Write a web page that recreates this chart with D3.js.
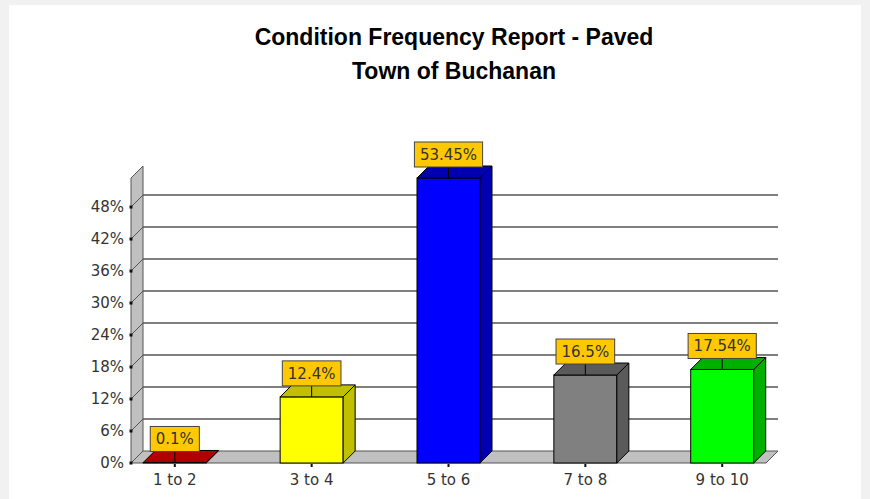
<!DOCTYPE html>
<html>
<head>
<meta charset="utf-8">
<script src="https://cdn.jsdelivr.net/npm/d3@7"></script>
<style>
  body { margin: 0; background: #f1f1f1; }
  #chart { position: absolute; left: 0; top: 0; }
</style>
</head>
<body>
<div id="chart"></div>
<script>
'use strict'

/*
 data
*/
let categories = ["1 to 2", "3 to 4", "5 to 6", "7 to 8", "9 to 10"]
let percents = [0.1, 12.4, 53.45, 16.5, 17.54]
let yTicks = [0, 6, 12, 18, 24, 30, 36, 42, 48]
let titleLines = ["Condition Frequency Report - Paved", "Town of Buchanan"]

let frontColors = ["#c00000", "#ffff00", "#0000ff", "#808080", "#00ff00"]
let darkColors = ["#b00000", "#c0c000", "#0000b0", "#5a5a5a", "#00b000"]

/*
 setup
*/
let width = 870
let height = 499
let x0 = 131      // front of y axis
let x1 = 766      // front right end of floor
let y0 = 463      // front baseline
let yTop = 178    // front top of the wall
let depth = 12
let barW = 63

let xscale = d3.scalePoint()
  .domain(categories)
  .range([x0, x1])
  .padding(0.32)

let yscale = d3.scaleLinear()
  .domain([0, d3.max(percents)])
  .range([y0, yTop])

let svg = d3.select("#chart").append("svg")
  .attr("width", width)
  .attr("height", height)

// white panel
svg.append("rect")
  .attr("x", 9).attr("y", 5)
  .attr("width", 852).attr("height", height)
  .style("fill", "#fff")

// title
svg.selectAll(".title")
  .data(titleLines)
  .enter()
  .append("text")
  .attr("class", "title")
  .attr("x", 454)
  .attr("y", (d, i) => 45 + i * 34)
  .attr("text-anchor", "middle")
  .style("font-family", "'Liberation Sans', Arial, sans-serif")
  .style("font-weight", "bold")
  .style("font-size", "23px")
  .text(d => d)

function pts(arr) {
  return arr.map(p => p.join(",")).join(" ")
}

// left wall
svg.append("polygon")
  .attr("points", pts([[x0, y0], [x0 + depth, y0 - depth], [x0 + depth, yTop - depth], [x0, yTop]]))
  .style("fill", "#c0c0c0")
  .style("stroke", "#555")

// floor
svg.append("polygon")
  .attr("points", pts([[x0, y0], [x1, y0], [x1 + depth, y0 - depth], [x0 + depth, y0 - depth]]))
  .style("fill", "#c0c0c0")
  .style("stroke", "#555")

// gridlines on back wall
let grid = yTicks.filter(d => d > 0)
svg.selectAll(".grid")
  .data(grid)
  .enter()
  .append("line")
  .attr("x1", x0 + depth)
  .attr("x2", x1 + depth)
  .attr("y1", d => yscale(d) - depth)
  .attr("y2", d => yscale(d) - depth)
  .style("stroke", "#555")
  .style("stroke-width", 1.5)

// diagonal lines across the wall
svg.selectAll(".wallLine")
  .data(grid)
  .enter()
  .append("line")
  .attr("x1", x0)
  .attr("x2", x0 + depth)
  .attr("y1", d => yscale(d))
  .attr("y2", d => yscale(d) - depth)
  .style("stroke", "#555")

// y axis ticks
svg.selectAll(".ytick")
  .data(yTicks)
  .enter()
  .append("rect")
  .attr("x", x0 - 1.5)
  .attr("y", d => yscale(d) - 1.5)
  .attr("width", 3)
  .attr("height", 3)
  .style("fill", "#111")

svg.selectAll(".ylabel")
  .data(yTicks)
  .enter()
  .append("text")
  .attr("x", x0 - 7)
  .attr("y", d => yscale(d) + 5)
  .attr("text-anchor", "end")
  .style("font-family", "'DejaVu Sans', sans-serif")
  .style("font-size", "15px")
  .style("fill", "#333")
  .text(d => d + "%")

// bars
let bars = svg.selectAll(".bar")
  .data(percents)
  .enter()
  .append("g")

function left(i) { return xscale(categories[i]) - barW / 2 }

bars.append("rect")
  .attr("x", (d, i) => left(i))
  .attr("y", d => yscale(d))
  .attr("width", barW)
  .attr("height", d => y0 - yscale(d))
  .style("fill", (d, i) => frontColors[i])
  .style("stroke", "#000")

bars.append("polygon")
  .attr("points", (d, i) => {
    let r = left(i) + barW, t = yscale(d)
    return pts([[r, y0], [r + depth, y0 - depth], [r + depth, t - depth], [r, t]])
  })
  .style("fill", (d, i) => darkColors[i])
  .style("stroke", "#000")

bars.append("polygon")
  .attr("points", (d, i) => {
    let l = left(i), t = yscale(d)
    return pts([[l, t], [l + depth, t - depth], [l + barW + depth, t - depth], [l + barW, t]])
  })
  .style("fill", (d, i) => darkColors[i])
  .style("stroke", "#000")

// x axis ticks and labels
svg.selectAll(".xtick")
  .data(categories)
  .enter()
  .append("rect")
  .attr("x", d => xscale(d) - 1)
  .attr("y", y0 + 1)
  .attr("width", 2)
  .attr("height", 3)
  .style("fill", "#111")

svg.selectAll(".xlabel")
  .data(categories)
  .enter()
  .append("text")
  .attr("x", d => xscale(d))
  .attr("y", 485)
  .attr("text-anchor", "middle")
  .style("font-family", "'DejaVu Sans', sans-serif")
  .style("font-size", "15px")
  .style("fill", "#333")
  .text(d => d)

// value labels
let labels = svg.selectAll(".vlabel")
  .data(percents)
  .enter()
  .append("g")

labels.append("line")
  .attr("x1", (d, i) => xscale(categories[i]))
  .attr("x2", (d, i) => xscale(categories[i]))
  .attr("y1", d => yscale(d) - 11)
  .attr("y2", d => yscale(d))
  .style("stroke", "#000")

let ltext = labels.append("text")
  .attr("x", (d, i) => xscale(categories[i]))
  .attr("y", d => yscale(d) - 18)
  .attr("text-anchor", "middle")
  .style("font-family", "'DejaVu Sans', sans-serif")
  .style("font-size", "15px")
  .style("fill", "#333")
  .text(d => d + "%")

ltext.each(function (d, i) {
  let w = this.getComputedTextLength() + 11
  let cx = xscale(categories[i])
  d3.select(this.parentNode).insert("rect", "text")
    .attr("x", cx - w / 2)
    .attr("y", yscale(d) - 36)
    .attr("width", w)
    .attr("height", 25)
    .style("fill", "#ffc800")
    .style("stroke", "#444")
})
</script>
</body>
</html>
